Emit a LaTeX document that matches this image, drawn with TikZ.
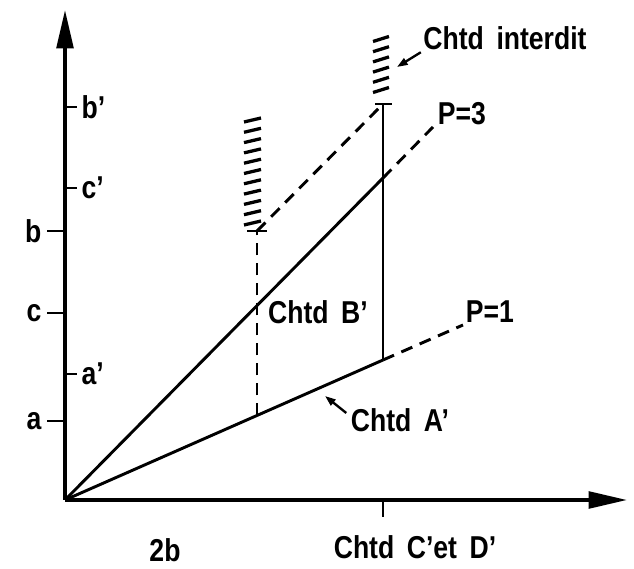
\documentclass[tikz,border=0pt]{standalone}
\usepackage{fontspec}
\setmainfont[FakeStretch=0.84, WordSpace=1.7]{Liberation Sans}
\usetikzlibrary{arrows.meta}
\begin{document}
\begin{tikzpicture}[x=0.03cm, y=-0.03cm, line width=2.5pt, line cap=butt,
  every node/.style={font=\fontsize{27}{30}\selectfont\bfseries, inner sep=1pt},
  axis/.style={line width=3pt, -{Triangle[length=1.15cm,width=0.5cm]}},
  lim/.style={dash pattern=on 0.36cm off 0.24cm},
  hatch/.style={line width=2.8pt},
  pointer/.style={line width=2pt, -{Triangle[length=0.32cm,width=0.22cm]}}]
\useasboundingbox (0,0) rectangle (634,569);
% points of the diagram
\coordinate (O) at (65,500);
\coordinate (ytop) at (65,10);
\coordinate (xend) at (627,500);
\coordinate (A) at (383,360);
\coordinate (B) at (383,178);
\coordinate (T) at (383,104);
\coordinate (S) at (257,231);
\coordinate (R) at (257,415.5);
\coordinate (P1) at (463,325);
\coordinate (P3) at (433,127);
\coordinate (xt) at (383,517);
% axes
\draw[axis] (O) -- (ytop);
\draw[axis] (O) -- (xend);
\draw (A |- O) -- (xt);
% ticks on the y axis
\foreach \y/\nm/\lab in {421/a/a,313/c/c,231/b/b} {
  \draw (47,\y) -- (65,\y);
  \node[anchor=east] (y\nm) at (44,\y) {\lab};
}
\foreach \y/\nm/\lab in {374/ap/a',188/cp/c',107/bp/b'} {
  \draw (65,\y) -- (77,\y);
  \node[anchor=west] (y\nm) at (79,\y) {\lab};
}
% P=1 and P=3 lines
\draw (O) -- (A);
\draw[lim] (A) -- (P1);
\draw (O) -- (B);
\draw[lim] (B) -- (P3);
% limits
\draw (A) -- (T);
\draw (375,104) -- (392,104);
\draw[lim] (R) -- (S);
\draw (247,231) -- (267,231);
\draw[lim] (S) -- (T);
% forbidden zones
\foreach \k in {0,...,5} \draw[hatch] (373,{90-\k*10.2+2.5}) -- (389,{90-\k*10.2-2.5});
\foreach \k in {0,...,10} \draw[hatch] (244,{223-\k*10.3+2}) -- (261,{223-\k*10.3-2});
% labels
\node (interdit) at (505,38) {Chtd interdit};
\coordinate (hz) at (397,67);
\draw[pointer] (interdit.south west) -- (hz);
\node (lP3) at (462,114) {P=3};
\node (lP1) at (490,312) {P=1};
\node (lB) at (318,312) {Chtd B'};
\node (lA) at (400,420) {Chtd A'};
\coordinate (ha) at (325,396);
\draw[pointer] ([shift={(-2,-7)}]lA.west) -- (ha);
\node (lCD) at (415,547) {Chtd C'et D'};
\node (l2b) at (165,550) {2b};
\end{tikzpicture}
\end{document}
